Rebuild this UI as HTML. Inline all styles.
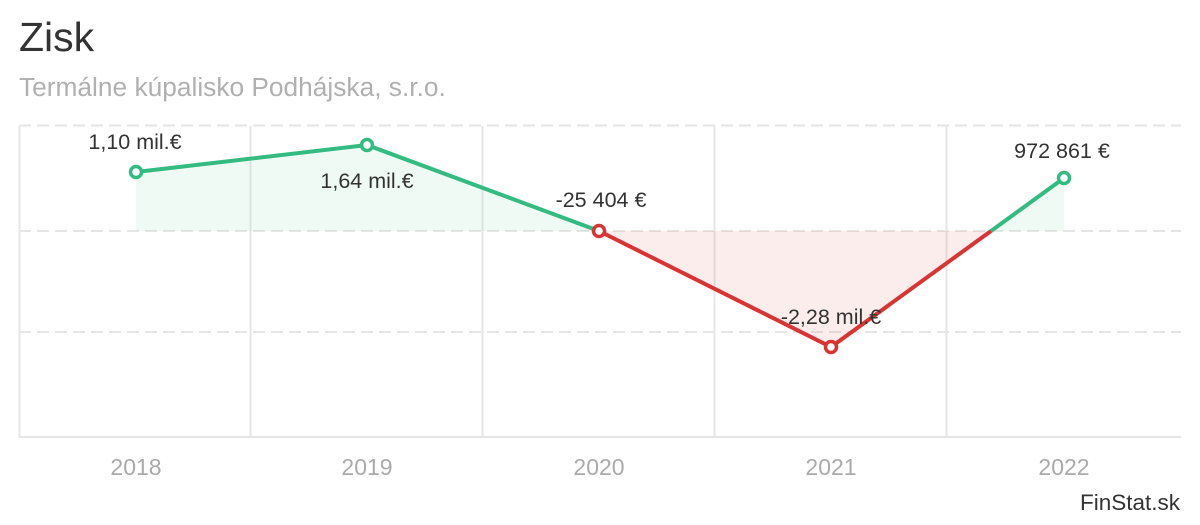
<!DOCTYPE html>
<html><head><meta charset="utf-8"><style>
body{margin:0;background:#fff;width:1200px;height:520px;overflow:hidden;font-family:"Liberation Sans",Arial,sans-serif}
</style></head><body>
<svg width="1200" height="520" xmlns="http://www.w3.org/2000/svg" font-family="Liberation Sans, Arial, sans-serif">
<text x="19" y="51" font-size="41" fill="#333">Zisk</text>
<text x="19" y="96" font-size="26.3" fill="#b0b0b0">Termálne kúpalisko Podhájska, s.r.o.</text>
<g stroke="#e6e6e6" stroke-width="2">
<line x1="19.5" y1="126" x2="19.5" y2="437"/>
<line x1="250.5" y1="126" x2="250.5" y2="437"/>
<line x1="482.5" y1="126" x2="482.5" y2="437"/>
<line x1="714.5" y1="126" x2="714.5" y2="437"/>
<line x1="946.5" y1="126" x2="946.5" y2="437"/>
<g stroke-dasharray="12 6"><line x1="19" y1="125.5" x2="1181" y2="125.5"/><line x1="19" y1="231" x2="1181" y2="231"/><line x1="19" y1="332" x2="1181" y2="332"/></g>
<line x1="19" y1="437" x2="1181" y2="437"/>
</g>
<polygon points="136,172 367,145 599,231 136,231" fill="#33bb82" fill-opacity="0.08"/>
<polygon points="991,231 1064,178 1064,231" fill="#33bb82" fill-opacity="0.08"/>
<polygon points="599,231 831,347 991,231" fill="#d93434" fill-opacity="0.09"/>
<polyline points="136,172 367,145 599,231" fill="none" stroke="#33bb82" stroke-width="4"/>
<polyline points="599,231 831,347 991,231" fill="none" stroke="#d93434" stroke-width="4"/>
<polyline points="991,231 1064,178" fill="none" stroke="#33bb82" stroke-width="4"/>
<g fill="#fff" stroke-width="3.5">
<circle cx="136" cy="172" r="5.5" stroke="#33bb82"/>
<circle cx="367" cy="145" r="5.5" stroke="#33bb82"/>
<circle cx="599" cy="231" r="5.5" stroke="#d93434"/>
<circle cx="831" cy="347" r="5.5" stroke="#d93434"/>
<circle cx="1064" cy="178" r="5.5" stroke="#33bb82"/>
</g>
<g font-size="21.5" fill="#333" text-anchor="middle">
<text x="135" y="149">1,10 mil.€</text>
<text x="367" y="188">1,64 mil.€</text>
<text x="601" y="207">-25 404 €</text>
<text x="831" y="324">-2,28 mil.€</text>
<text x="1062" y="158">972 861 €</text>
</g>
<g font-size="23" fill="#aaa" text-anchor="middle">
<text x="136" y="475">2018</text><text x="367" y="475">2019</text><text x="599" y="475">2020</text><text x="831" y="475">2021</text><text x="1064" y="475">2022</text>
</g>
<text x="1180" y="510" font-size="22.5" fill="#333" text-anchor="end">FinStat.sk</text>
</svg>
</body></html>
